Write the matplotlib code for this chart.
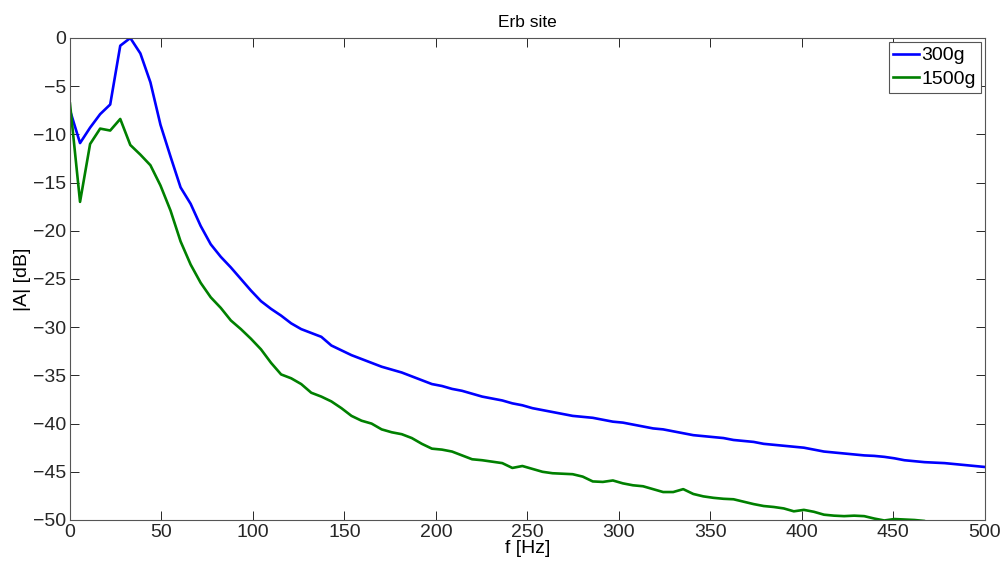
import numpy as np
import matplotlib
matplotlib.use("Agg")
import matplotlib.pyplot as plt

# frequency grid: 92 bins from 0 to 500 Hz
N_BINS = 92
F_MAX = 500.0

# |A| in dB
A_300G = [
    -7.5, -10.9, -9.3, -7.9, -6.9, -0.8, 0.0, -1.6, -4.6, -9.0,
    -12.3, -15.5, -17.2, -19.5, -21.4, -22.7, -23.8, -25.0, -26.2, -27.3,
    -28.1, -28.8, -29.6, -30.2, -30.6, -31.0, -31.9, -32.4, -32.9, -33.3,
    -33.7, -34.1, -34.4, -34.7, -35.1, -35.5, -35.9, -36.1, -36.4, -36.6,
    -36.9, -37.2, -37.4, -37.6, -37.9, -38.1, -38.4, -38.6, -38.8, -39.0,
    -39.2, -39.3, -39.4, -39.6, -39.8, -39.9, -40.1, -40.3, -40.5, -40.6,
    -40.8, -41.0, -41.2, -41.3, -41.4, -41.5, -41.7, -41.8, -41.9, -42.1,
    -42.2, -42.3, -42.4, -42.5, -42.7, -42.9, -43.0, -43.1, -43.2, -43.3,
    -43.35, -43.45, -43.6, -43.8, -43.9, -44.0, -44.05, -44.1, -44.2, -44.3,
    -44.4, -44.5,
]
A_1500G = [
    -6.8, -17.0, -11.0, -9.4, -9.6, -8.4, -11.1, -12.1, -13.2, -15.3,
    -17.9, -21.1, -23.5, -25.4, -26.9, -28.0, -29.3, -30.2, -31.2, -32.3,
    -33.7, -34.9, -35.3, -35.9, -36.8, -37.2, -37.7, -38.4, -39.2, -39.7,
    -40.0, -40.6, -40.9, -41.1, -41.5, -42.1, -42.6, -42.7, -42.9, -43.3,
    -43.7, -43.8, -43.95, -44.1, -44.6, -44.4, -44.7, -45.0, -45.15, -45.2,
    -45.25, -45.5, -46.0, -46.05, -45.9, -46.2, -46.4, -46.5, -46.8, -47.1,
    -47.1, -46.8, -47.3, -47.55, -47.7, -47.8, -47.85, -48.1, -48.35, -48.55,
    -48.65, -48.8, -49.1, -48.95, -49.15, -49.45, -49.55, -49.6, -49.55, -49.6,
    -49.85, -50.05, -49.9, -49.95, -50.0, -50.1, -50.6, -51.0, -51.2, -51.4,
    -51.5, -51.7,
]
LABELS = ["300g", "1500g"]
COLORS = ["#0000ff", "#008000"]

X_TICKS = list(range(0, 501, 50))
Y_TICKS = list(range(-50, 1, 5))

plt.rcParams["font.family"] = ["Liberation Sans", "DejaVu Sans"]

freq = np.linspace(0, F_MAX, N_BINS)

fig = plt.figure(figsize=(10.07, 5.67), dpi=100)
ax = fig.add_axes([0.0695, 0.0829, 0.9085, 0.8501])

for ys, lab, col in zip([A_300G, A_1500G], LABELS, COLORS):
    ax.plot(freq, ys, color=col, lw=1.9, label=lab)

ax.set_xlim(0, 500)
ax.set_ylim(-50, 0)
ax.set_xticks(X_TICKS)
ax.set_yticks(Y_TICKS)
ax.tick_params(direction="in", length=6.5, width=0.7, top=True, right=True,
               labelsize=14, colors="#262626", pad=3)
for sp in ax.spines.values():
    sp.set_color("#555555")
    sp.set_linewidth(0.8)

ax.set_title("Erb site", fontsize=12.5, pad=8)
ax.set_xlabel("f [Hz]", fontsize=14, labelpad=-1)
ax.set_ylabel("|A| [dB]", fontsize=14, labelpad=1)

leg = ax.legend(loc="upper right", fontsize=14, fancybox=False, framealpha=1,
                edgecolor="#555555", borderaxespad=0.2, borderpad=0.25,
                labelspacing=0.3, handlelength=1.3, handletextpad=0.15)
leg.get_frame().set_linewidth(0.8)

fig.savefig("out.png", dpi=100)
